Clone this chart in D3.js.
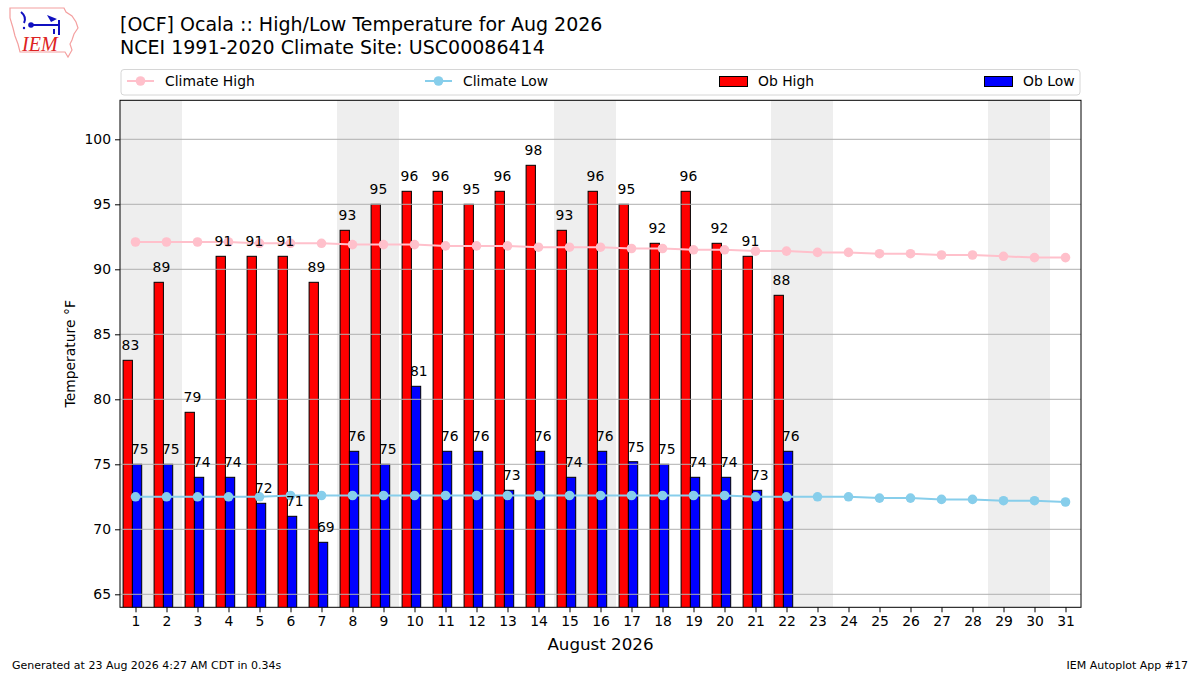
<!DOCTYPE html>
<html>
<head>
<meta charset="utf-8">
<script src="https://cdn.jsdelivr.net/npm/d3@7"></script>
<style>
  body { margin: 0; background: #fff; }
  svg { font-family: "DejaVu Sans", sans-serif; }
</style>
</head>
<body>
<div id="chart"></div>
<script>
const days = [1, 2, 3, 4, 5, 6, 7, 8, 9, 10, 11, 12, 13, 14, 15, 16, 17, 18, 19, 20, 21, 22, 23, 24, 25, 26, 27, 28, 29, 30, 31];
const obHigh = [83, 89, 79, 91, 91, 91, 89, 93, 95, 96, 96, 95, 96, 98, 93, 96, 95, 92, 96, 92, 91, 88];
const obLow = [75, 75, 74, 74, 72, 71, 69, 76, 75, 81, 76, 76, 73, 76, 74, 76, 75.2, 75, 74, 74, 73, 76];
const climateHigh = [92.1, 92.1, 92.1, 92.1, 92.0, 92.0, 92.0, 91.9, 91.9, 91.9, 91.8, 91.8, 91.8, 91.7, 91.7, 91.7,
  91.6, 91.6, 91.5, 91.5, 91.4, 91.4, 91.3, 91.3, 91.2, 91.2, 91.1, 91.1, 91.0, 90.9, 90.9];
const climateLow = [72.5, 72.5, 72.5, 72.5, 72.5, 72.6, 72.6, 72.6, 72.6, 72.6, 72.6, 72.6, 72.6, 72.6, 72.6, 72.6,
  72.6, 72.6, 72.6, 72.6, 72.5, 72.5, 72.5, 72.5, 72.4, 72.4, 72.3, 72.3, 72.2, 72.2, 72.1];
const weekendStarts = [1, 8, 15, 22, 29];
const yTicks = [65, 70, 75, 80, 85, 90, 95, 100];

const width = 1200, height = 675;
const plot = { left: 120, right: 1081, top: 100.3, bottom: 607.3 };

const svg = d3.select("#chart")
  .append("svg")
  .attr("width", width)
  .attr("height", height);

const x = d3.scaleLinear().domain([0.5, 31.5]).range([plot.left, plot.right]);
const y = d3.scaleLinear().domain([64, 103]).range([plot.bottom, plot.top]);

svg.append("clipPath").attr("id", "clip")
  .append("rect")
  .attr("x", plot.left).attr("y", plot.top)
  .attr("width", plot.right - plot.left).attr("height", plot.bottom - plot.top);

const g = svg.append("g").attr("clip-path", "url(#clip)");

// weekend shading
g.selectAll(".wk")
  .data(weekendStarts)
  .join("rect")
  .attr("x", d => x(d - 0.5))
  .attr("y", plot.top)
  .attr("width", d => x(d + 1.5) - x(d - 0.5))
  .attr("height", plot.bottom - plot.top)
  .attr("fill", "#eeeeee");

// bars
g.selectAll(".hi")
  .data(obHigh)
  .join("rect")
  .attr("x", (d, i) => x(days[i] - 0.4))
  .attr("y", d => y(d))
  .attr("width", x(0.3) - x(0))
  .attr("height", d => plot.bottom + 2 - y(d))
  .attr("fill", "red")
  .attr("stroke", "black")
  .attr("stroke-width", 1);

g.selectAll(".lo")
  .data(obLow)
  .join("rect")
  .attr("x", (d, i) => x(days[i] - 0.1))
  .attr("y", d => y(d))
  .attr("width", x(0.3) - x(0))
  .attr("height", d => plot.bottom + 2 - y(d))
  .attr("fill", "blue")
  .attr("stroke", "black")
  .attr("stroke-width", 1);

// grid (drawn over bars)
g.selectAll(".grid")
  .data(yTicks)
  .join("line")
  .attr("x1", plot.left).attr("x2", plot.right)
  .attr("y1", d => y(d)).attr("y2", d => y(d))
  .attr("stroke", "#b0b0b0")
  .attr("stroke-width", 1);

// climate lines
const line = d3.line().x((d, i) => x(days[i])).y(d => y(d));

[[climateHigh, "pink"], [climateLow, "skyblue"]].forEach(([vals, col]) => {
  g.append("path")
    .datum(vals)
    .attr("d", line)
    .attr("fill", "none")
    .attr("stroke", col)
    .attr("stroke-width", 2);
  g.selectAll(null)
    .data(vals)
    .join("circle")
    .attr("cx", (d, i) => x(days[i]))
    .attr("cy", d => y(d))
    .attr("r", 4.8)
    .attr("fill", col);
});

// value labels
svg.append("g").selectAll("text")
  .data(obHigh)
  .join("text")
  .attr("x", (d, i) => x(days[i] - 0.4) - 1.5)
  .attr("y", d => y(d) - 10)
  .attr("font-size", 13.9)
  .attr("fill", "black")
  .text(d => Math.round(d));

svg.append("g").selectAll("text")
  .data(obLow)
  .join("text")
  .attr("x", (d, i) => x(days[i] - 0.1) - 1.5)
  .attr("y", d => y(d) - 10)
  .attr("font-size", 13.9)
  .attr("fill", "black")
  .text(d => Math.round(d));

// frame
svg.append("rect")
  .attr("x", plot.left).attr("y", plot.top)
  .attr("width", plot.right - plot.left).attr("height", plot.bottom - plot.top)
  .attr("fill", "none").attr("stroke", "black").attr("stroke-width", 1);

// axes
const xAxis = svg.append("g")
  .attr("transform", `translate(0,${plot.bottom})`)
  .call(d3.axisBottom(x).tickValues(days).tickSize(5).tickPadding(4).tickFormat(d3.format("d")));
const yAxis = svg.append("g")
  .attr("transform", `translate(${plot.left},0)`)
  .call(d3.axisLeft(y).tickValues(yTicks).tickSize(5).tickPadding(4));
[xAxis, yAxis].forEach(a => {
  a.select(".domain").remove();
  a.selectAll("text").attr("font-size", 13.9).attr("fill", "black").attr("font-family", "DejaVu Sans");
  a.selectAll("line").attr("stroke", "black");
});

svg.append("text")
  .attr("x", (plot.left + plot.right) / 2).attr("y", 650)
  .attr("text-anchor", "middle").attr("font-size", 16.7)
  .text("August 2026");

svg.append("text")
  .attr("transform", `translate(75,${(plot.top + plot.bottom) / 2}) rotate(-90)`)
  .attr("text-anchor", "middle").attr("font-size", 13.9)
  .text("Temperature °F");

// titles
svg.append("text").attr("x", 120).attr("y", 31).attr("font-size", 19)
  .text("[OCF] Ocala :: High/Low Temperature for Aug 2026");
svg.append("text").attr("x", 120).attr("y", 54).attr("font-size", 19)
  .text("NCEI 1991-2020 Climate Site: USC00086414");

// legend
const lg = svg.append("g");
lg.append("rect")
  .attr("x", 121).attr("y", 69.5).attr("width", 959).attr("height", 25.5)
  .attr("rx", 3).attr("fill", "white").attr("stroke", "#d6d6d6");
[[127, "pink", "Climate High"], [425, "skyblue", "Climate Low"]].forEach(([lx, col, txt]) => {
  lg.append("line").attr("x1", lx).attr("x2", lx + 27).attr("y1", 81).attr("y2", 81)
    .attr("stroke", col).attr("stroke-width", 2);
  lg.append("circle").attr("cx", lx + 13.5).attr("cy", 81).attr("r", 4.8).attr("fill", col);
  lg.append("text").attr("x", lx + 38).attr("y", 86).attr("font-size", 13.9).text(txt);
});
[[719.5, "red", "Ob High"], [984.5, "blue", "Ob Low"]].forEach(([lx, col, txt]) => {
  lg.append("rect").attr("x", lx).attr("y", 76.5).attr("width", 28).attr("height", 10)
    .attr("fill", col).attr("stroke", "black").attr("stroke-width", 1);
  lg.append("text").attr("x", lx + 38.5).attr("y", 86).attr("font-size", 13.9).text(txt);
});

// footer
svg.append("text").attr("x", 12).attr("y", 669).attr("font-size", 11)
  .text("Generated at 23 Aug 2026 4:27 AM CDT in 0.34s");
svg.append("text").attr("x", 1188).attr("y", 669).attr("font-size", 11)
  .attr("text-anchor", "end").text("IEM Autoplot App #17");

// logo (rough IEM mark)
const logo = svg.append("g");
logo.append("path")
  .attr("d", "M10,8 L64,8 L66,12 L72,16 L76,22 L78,28 L74,34 L72,40 L70,44 L72,50 L68,57 L65,52 L20,52 L18,44 L15,36 L13,28 L10,18 Z")
  .attr("fill", "none").attr("stroke", "#f4a0a0").attr("stroke-width", 1.2);
logo.append("path")
  .attr("d", "M21,12 Q27,17 24,23 M31,25 L59,25 M59,20 L59,35 M54,29 L54,34")
  .attr("fill", "none").attr("stroke", "#1010c0").attr("stroke-width", 2);
logo.append("circle").attr("cx", 31).attr("cy", 25).attr("r", 2.8).attr("fill", "#1010c0");
logo.append("circle").attr("cx", 24).attr("cy", 28).attr("r", 1.2).attr("fill", "#1010c0");
logo.append("path").attr("d", "M47,15 L57,19 L51,22 Z").attr("fill", "#1010c0");
logo.append("text").attr("x", 22).attr("y", 51).attr("font-size", 20)
  .attr("font-family", "Liberation Serif").attr("font-style", "italic")
  .attr("fill", "#dd2222").text("IEM");
</script>
</body>
</html>
